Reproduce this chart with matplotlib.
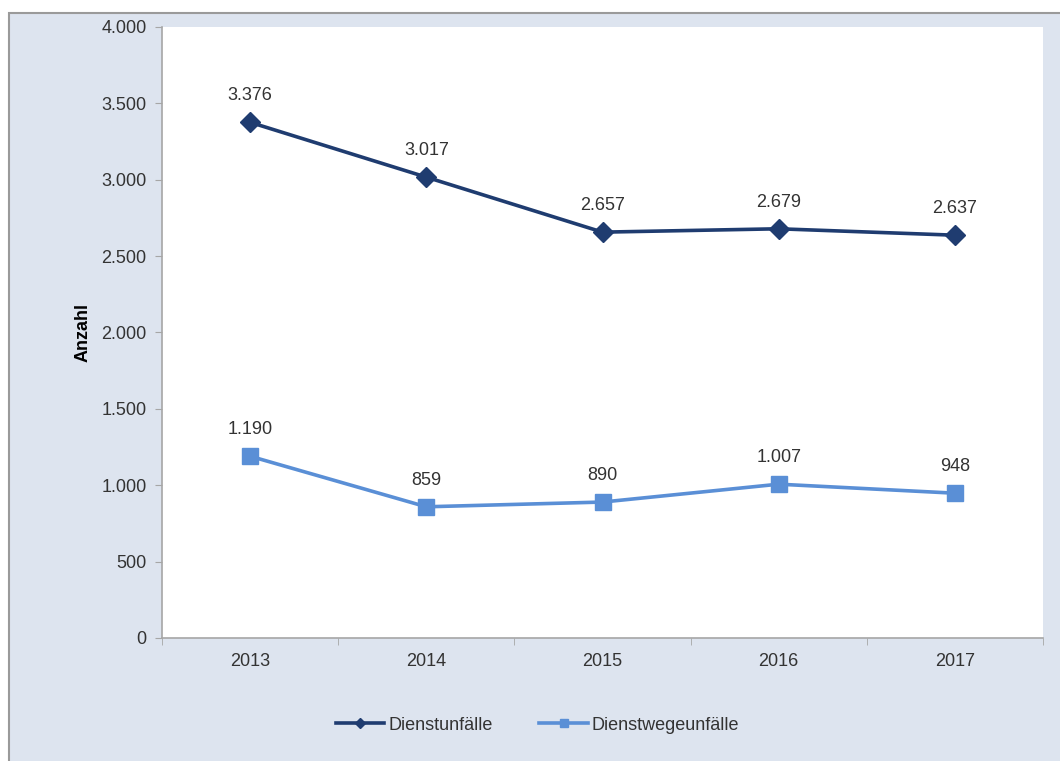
import matplotlib
matplotlib.use("Agg")
import matplotlib.pyplot as plt
from matplotlib.patches import Rectangle
from matplotlib.ticker import FuncFormatter, FixedLocator

jahre = ['2013', '2014', '2015', '2016', '2017']
dienstunfaelle = [3376, 3017, 2657, 2679, 2637]
dienstwegeunfaelle = [1190, 859, 890, 1007, 948]
y_ticks = [0, 500, 1000, 1500, 2000, 2500, 3000, 3500, 4000]

plt.rcParams['font.family'] = ['Liberation Sans', 'DejaVu Sans']

hintergrund = '#dde4ef'
dunkel = '#1f3c70'
hell = '#5a8fd6'
achse = '#a6a6a6'
textfarbe = '#333333'

def tausender(v, pos):
    return '{:,.0f}'.format(v).replace(',', '.')

fig = plt.figure(figsize=(10.6, 7.61), dpi=100)
fig.patch.set_facecolor('white')
fig.patches.append(Rectangle((9 / 1060, -0.01), 1.02, (761 - 13) / 761 + 0.01,
                             transform=fig.transFigure, facecolor=hintergrund,
                             edgecolor='#9a9a9a', linewidth=1.5, zorder=-10))

ax = fig.add_axes([162 / 1060, (761 - 638) / 761, (1043 - 162) / 1060, (638 - 27) / 761])
ax.set_facecolor('white')

x = list(range(len(jahre)))
ax.plot(x, dienstunfaelle, color=dunkel, linewidth=2.6, marker='D', markersize=10,
        label='Dienstunfälle', zorder=3)
ax.plot(x, dienstwegeunfaelle, color=hell, linewidth=2.6, marker='s', markersize=11,
        label='Dienstwegeunfälle', zorder=3)

for xi, v in zip(x, dienstunfaelle):
    ax.annotate(tausender(v, None), (xi, v), xytext=(0, 13), textcoords='offset points',
                ha='center', va='bottom', fontsize=13, color=textfarbe)
for xi, v in zip(x, dienstwegeunfaelle):
    ax.annotate(tausender(v, None), (xi, v), xytext=(0, 13), textcoords='offset points',
                ha='center', va='bottom', fontsize=13, color=textfarbe)

ax.set_xlim(-0.5, len(jahre) - 0.5)
ax.set_ylim(0, 4000)
ax.set_xticks(x)
ax.set_xticklabels(jahre)
ax.xaxis.set_minor_locator(FixedLocator([i - 0.5 for i in range(len(jahre) + 1)]))
ax.tick_params(axis='x', which='major', length=0, pad=11, labelsize=13, labelcolor=textfarbe)
ax.tick_params(axis='x', which='minor', length=5, color=achse, direction='out')
ax.set_yticks(y_ticks)
ax.yaxis.set_major_formatter(FuncFormatter(tausender))
ax.tick_params(axis='y', length=5, color=achse, labelsize=13, labelcolor=textfarbe, pad=6)

for s in ['top', 'right']:
    ax.spines[s].set_visible(False)
for s in ['left', 'bottom']:
    ax.spines[s].set_color(achse)
    ax.spines[s].set_linewidth(1.2)

ax.set_ylabel('Anzahl', fontsize=13, fontweight='bold', color='black', labelpad=7)

fig.legend(loc='center', bbox_to_anchor=(0.507, (761 - 725) / 761), ncol=2, frameon=False,
           fontsize=13, handlelength=2.7, handletextpad=0.2, columnspacing=2.6,
           markerscale=0.55, labelcolor=textfarbe)

fig.savefig('out.png', dpi=100, facecolor=fig.get_facecolor())
